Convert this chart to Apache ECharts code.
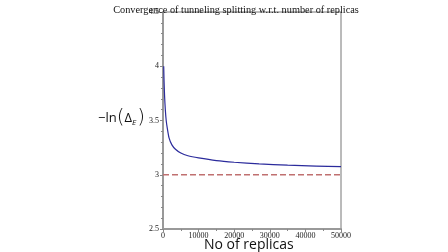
<!DOCTYPE html>
<html><head><meta charset="utf-8">
<script src="https://cdn.jsdelivr.net/npm/echarts@6/dist/echarts.min.js"></script>
<style>html,body{margin:0;padding:0;background:#fff}#c{width:448px;height:252px}</style>
</head><body><div id="c"></div>
<script>
const titleText = 'Convergence of tunneling splitting w.r.t. number of replicas';
const xLabel = 'No of replicas';
const replicas = [200, 300, 450, 650, 900, 1200, 1700, 2500, 3500, 5000, 7000, 10000, 15000, 20000, 27000, 35000, 43000, 50000];
const lnDelta = [4.0, 3.86, 3.72, 3.60, 3.50, 3.43, 3.34, 3.275, 3.235, 3.20, 3.175, 3.155, 3.13, 3.115, 3.10, 3.088, 3.08, 3.074];
const limitX = [0, 50000];
const limitY = [3.0, 3.0];

const chart = echarts.init(document.getElementById('c'));
const serif = 'Liberation Serif';
chart.setOption({
  animation: false,
  title: {text: titleText, left: 231, textAlign: 'center', top: 0,
    textStyle: {fontFamily: serif, fontSize: 10.3, fontWeight: 'normal', color: '#111'}},
  grid: {left: 163, right: 107, top: 12, bottom: 23, show: true, borderColor: '#777', borderWidth: 1},
  xAxis: {type: 'value', min: 0, max: 50000, interval: 10000,
    axisLine: {lineStyle: {color: '#999', width: 2}},
    axisTick: {show: true, length: 3, lineStyle: {color: '#888'}},
    minorTick: {show: true, splitNumber: 2, length: 2, lineStyle: {color: '#888'}},
    splitLine: {show: false},
    axisLabel: {fontFamily: serif, fontSize: 8, color: '#222', margin: 3, formatter: v => String(v)}},
  yAxis: {type: 'value', min: 2.5, max: 4.5, interval: 0.5,
    axisLine: {show: true, lineStyle: {color: '#999', width: 2}},
    axisTick: {show: true, length: 3, lineStyle: {color: '#888'}},
    minorTick: {show: true, splitNumber: 5, length: 2, lineStyle: {color: '#888'}},
    splitLine: {show: false},
    axisLabel: {fontFamily: serif, fontSize: 8, color: '#222', margin: 4, formatter: v => String(v)}},
  series: [
    {type: 'line', data: limitX.map((x, i) => [x, limitY[i]]), symbol: 'none',
      lineStyle: {color: '#c07070', width: 1.5, type: [6, 3]}},
    {type: 'line', data: replicas.map((x, i) => [x, lnDelta[i]]), symbol: 'none', smooth: 0.2,
      lineStyle: {color: '#2b2b9c', width: 1.2}}
  ],
  graphic: [
    {type: 'text', left: 204, top: 238, style: {text: xLabel, fontFamily: 'Open Sans', fontSize: 14, fill: '#111', lineHeight: 14}},
    {type: 'text', left: 98, top: 108, style: {
      text: '{a|−ln}{p|(}{a|Δ}{s|E}{p|)}',
      rich: {
        a: {fontFamily: 'Open Sans', fontSize: 13, fill: '#111'},
        p: {fontFamily: 'DejaVu Sans', fontSize: 20, fill: '#111', fontWeight: 100},
        s: {fontFamily: 'Open Sans', fontSize: 8, fontStyle: 'italic', fill: '#111', padding: [9, 1, 0, 0]}
      }}}
  ]
});
</script></body></html>
